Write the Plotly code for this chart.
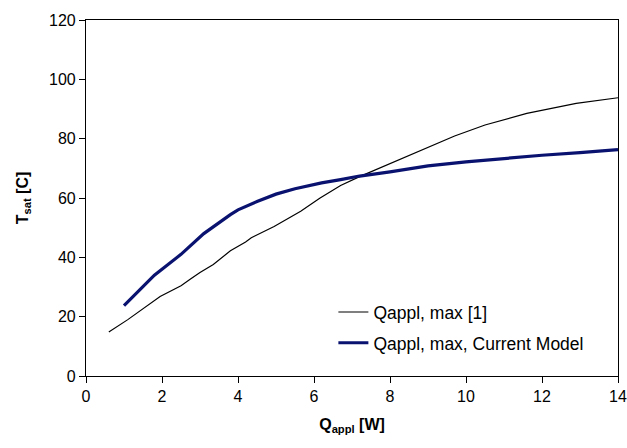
import plotly.graph_objects as go

# Saturation temperature vs applied heat load
q_ref = [0.6, 1.1, 1.95, 2.5, 2.75, 3.0, 3.35, 3.8, 4.2, 4.35, 4.95, 5.3, 5.65, 6.15,
         6.7, 7.2, 7.4, 8.2, 9.0, 9.7, 10.5, 11.6, 12.9, 14.0]
t_ref = [14.8, 19.0, 26.8, 30.4, 32.7, 34.9, 37.6, 42.2, 45.2, 46.6, 50.4, 53.0, 55.5, 59.9,
         64.2, 67.2, 68.3, 72.8, 77.3, 80.9, 84.6, 88.5, 91.9, 93.8]

q_model = [1.0, 1.8, 2.5, 3.1, 3.8, 4.0, 4.5, 5.0, 5.5, 6.2, 6.7, 7.2, 8.0, 9.0,
           10.0, 11.0, 12.0, 13.0, 14.0]
t_model = [23.7, 34.0, 41.0, 48.0, 54.4, 56.0, 58.8, 61.3, 63.1, 65.1, 66.2, 67.4, 68.8, 70.8,
           72.2, 73.4, 74.4, 75.3, 76.3]

x_ticks = [0, 2, 4, 6, 8, 10, 12, 14]
y_ticks = [0, 20, 40, 60, 80, 100, 120]

FONT = "Liberation Sans, Arial, sans-serif"

fig = go.Figure()
fig.add_trace(go.Scatter(
    x=q_ref, y=t_ref, mode="lines", name="Qappl, max [1]", legendgroup="a",
    line=dict(color="#000000", width=1.2),
))
fig.add_trace(go.Scatter(
    x=q_model, y=t_model, mode="lines", name="Qappl, max, Current Model", legendgroup="b",
    line=dict(color="#0a1270", width=3.2),
))

axis_common = dict(
    showgrid=False, zeroline=False, showline=True, linecolor="#000000", linewidth=1.2,
    mirror=True, ticks="outside", ticklen=6, tickcolor="#000000", tickwidth=1.2,
    tickfont=dict(family=FONT, size=16, color="#000000"), automargin=False,
)

fig.update_layout(
    width=627, height=448,
    margin=dict(l=86, r=9, t=20, b=72),
    paper_bgcolor="#ffffff", plot_bgcolor="#ffffff",
    font=dict(family=FONT, color="#000000"),
    xaxis=dict(
        range=[0, 14], tickvals=x_ticks,
        title=dict(text="<b>Q<sub>appl</sub> [W]</b>", font=dict(family=FONT, size=16), standoff=14),
        **axis_common,
    ),
    yaxis=dict(
        range=[0, 120], tickvals=y_ticks,
        title=dict(text="<b>T<sub>sat</sub> [C]</b>", font=dict(family=FONT, size=16), standoff=16),
        **axis_common,
    ),
    legend=dict(
        x=0.465, y=0.23, xanchor="left", yanchor="top",
        bgcolor="rgba(0,0,0,0)", borderwidth=0,
        font=dict(family=FONT, size=17.5, color="#000000"),
        tracegroupgap=5,
    ),
    showlegend=True,
)

fig.write_html("out.html")
